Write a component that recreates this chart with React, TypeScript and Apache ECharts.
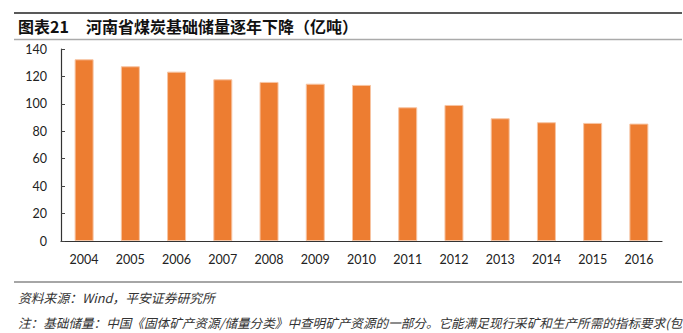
import React, { useEffect, useRef } from "react";
import * as echarts from "echarts";

const categories = ["2004", "2005", "2006", "2007", "2008", "2009", "2010", "2011", "2012", "2013", "2014", "2015", "2016"];
const reserves = [132.5, 127.4, 123.5, 117.9, 116, 114.7, 113.8, 97.5, 99.2, 89.5, 86.6, 86.1, 85.6];
const yTicks = { min: 0, max: 140, interval: 20 };

const titleNo = "图表21";
const titleText = "河南省煤炭基础储量逐年下降（亿吨）";
const sourceText = "资料来源：Wind，平安证券研究所";
const noteText = "注：基础储量：中国《固体矿产资源/储量分类》中查明矿产资源的一部分。它能满足现行采矿和生产所需的指标要求(包";

export default function App() {
  const ref = useRef<HTMLDivElement>(null);
  useEffect(() => {
    if (!ref.current) return;
    const chart = echarts.init(ref.current, undefined, { renderer: "svg" });
    const cjk = '"Noto Sans CJK SC", "Liberation Sans", sans-serif';
    chart.setOption({
      animation: false,
      backgroundColor: "#fff",
      grid: { left: 61, right: 21, top: 49, bottom: 92, containLabel: false },
      xAxis: {
        type: "category",
        data: categories,
        axisLine: { lineStyle: { color: "#333", width: 1.2 } },
        axisTick: { inside: true, length: 4, lineStyle: { color: "#444" } },
        axisLabel: { color: "#222", fontSize: 12.5, fontFamily: "Lato, sans-serif", margin: 12 },
      },
      yAxis: {
        type: "value",
        min: yTicks.min,
        max: yTicks.max,
        interval: yTicks.interval,
        splitLine: { show: false },
        axisLine: { show: true, lineStyle: { color: "#333", width: 1.2 } },
        axisTick: { show: true, inside: true, length: 4, lineStyle: { color: "#444" } },
        axisLabel: { color: "#222", fontSize: 12.5, fontFamily: "Lato, sans-serif", margin: 14 },
      },
      series: [
        {
          type: "bar",
          data: reserves,
          barWidth: 19,
          itemStyle: { color: "#ED7D31", borderColor: "#F7C4A2", borderWidth: 1 },
        },
      ],
      graphic: [
        { type: "line", shape: { x1: 14, y1: 13, x2: 682, y2: 13 }, style: { stroke: "#222", lineWidth: 1.5 } },
        { type: "line", shape: { x1: 14, y1: 39.5, x2: 682, y2: 39.5 }, style: { stroke: "#aaa", lineWidth: 1.5 } },
        { type: "line", shape: { x1: 14, y1: 282, x2: 682, y2: 282 }, style: { stroke: "#888", lineWidth: 1.5 } },
        {
          type: "text", x: 18, y: 26,
          style: { text: titleNo, font: `bold 16px ${cjk}`, fill: "#111", textVerticalAlign: "middle" },
        },
        {
          type: "text", x: 86, y: 26,
          style: { text: titleText, font: `bold 16px ${cjk}`, fill: "#111", textVerticalAlign: "middle" },
        },
        {
          type: "text", x: 18, y: 297,
          style: { text: sourceText, font: `italic 12.8px ${cjk}`, fill: "#333", textVerticalAlign: "middle" },
        },
        {
          type: "text", x: 18, y: 322,
          style: { text: noteText, font: `italic 12.6px ${cjk}`, fill: "#333", textVerticalAlign: "middle" },
        },
      ],
    });
    return () => chart.dispose();
  }, []);
  return <div ref={ref} style={{ position: "fixed", left: 0, top: 0, width: 683, height: 333 }} />;
}
